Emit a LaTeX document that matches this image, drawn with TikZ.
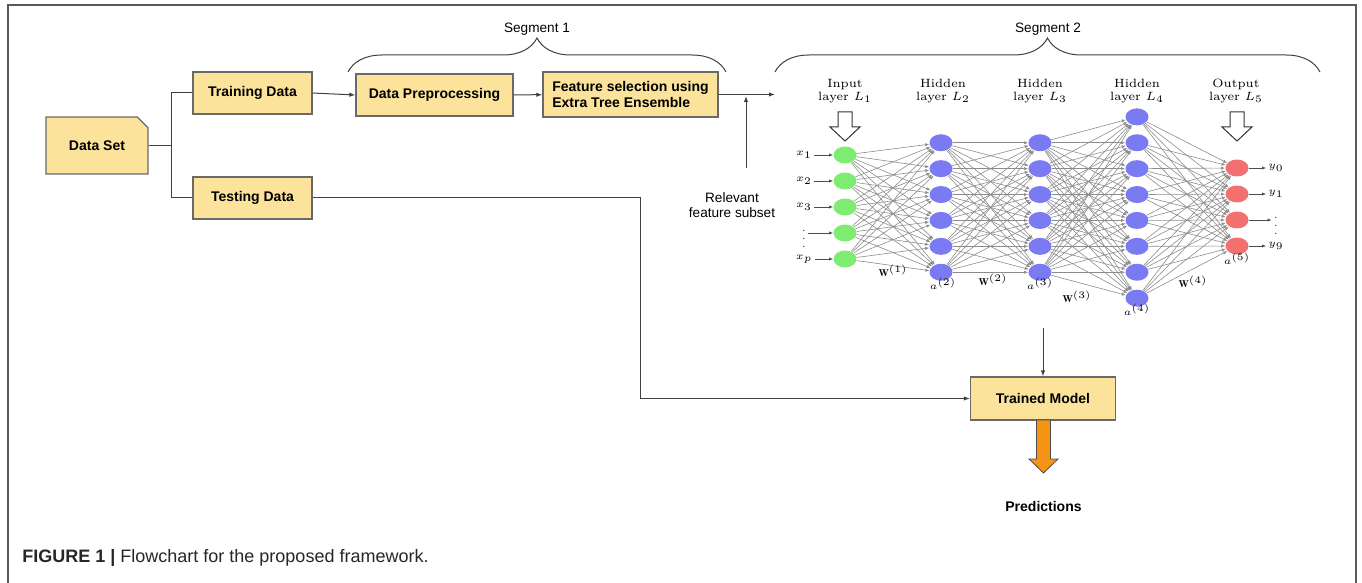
\documentclass[tikz,border=0pt]{standalone}
\usepackage{fontspec}
\setsansfont{Liberation Sans}
\usepackage{amsmath}
\usetikzlibrary{shapes,arrows,arrows.meta,decorations.pathreplacing}

\definecolor{boxfill}{RGB}{251,227,156}
\definecolor{boxline}{RGB}{105,105,105}
\definecolor{inode}{RGB}{125,236,112}
\definecolor{hnode}{RGB}{122,122,242}
\definecolor{onode}{RGB}{242,112,112}
\definecolor{predfill}{RGB}{245,148,20}

\tikzset{
  stagebox/.style={rectangle,draw=boxline,fill=boxfill,line width=0.6pt,inner sep=0pt,
    font=\sffamily\bfseries\fontsize{7}{8.4}\selectfont,align=left},
  link/.style={draw=black!75,line width=0.5pt},
  tip/.style={-{Latex[length=3pt,width=2.2pt]}},
  neuron/.style={ellipse,minimum width=11.5pt,minimum height=8.5pt,inner sep=0pt},
  nnedge/.style={draw=black!45,line width=0.3pt,-{Latex[length=2pt,width=1.6pt]}},
  nnlabel/.style={font=\fontsize{6}{6.5}\selectfont,align=center},
  varlabel/.style={font=\fontsize{5}{6}\selectfont,inner sep=1pt},
  seglabel/.style={font=\sffamily\fontsize{6.8}{7.8}\selectfont,align=center},
  hollow/.style={draw=black!80,fill=white,line width=0.5pt},
}

\begin{document}
\begin{tikzpicture}[x=0.5pt,y=-0.5pt]
\useasboundingbox (0,0) rectangle (1362,583);

% frame
\draw[black!65,line width=1pt] (8,583) -- (8,5) -- (1356,5) -- (1356,583);

% flowchart boxes
\node [stagebox,shape=chamfered rectangle,chamfered rectangle corners=north east,
  chamfered rectangle xsep=4.5pt,chamfered rectangle angle=45,
  minimum width=51pt,minimum height=28.5pt] (dataset) at (97,145.5) {Data Set};
\node [stagebox,minimum width=59.5pt,minimum height=21pt] (train) at (252.5,93) {Training Data};
\node [stagebox,minimum width=59.5pt,minimum height=21pt] (test) at (252.5,198) {Testing Data};
\node [stagebox,minimum width=78.5pt,minimum height=21pt] (prep) at (434.5,95) {Data Preprocessing};
\node [stagebox,minimum width=87.5pt,minimum height=22.5pt] (featsel) at (630.5,94.5) {Feature selection using\\Extra Tree Ensemble};
\node [stagebox,minimum width=72.5pt,minimum height=21.5pt] (trained) at (1043,398.5) {Trained Model};

\node [seglabel] (relevant) at (732,205) {Relevant\\feature subset};
\node [seglabel] (seg1) at (537,29) {Segment 1};
\node [seglabel] (seg2) at (1048,29) {Segment 2};
\node [font=\sffamily\bfseries\fontsize{7}{8.4}\selectfont] (pred) at (1043.5,506) {Predictions};

\coordinate (split) at (171,145.5);
\coordinate (nnin) at (775,94.5);
\coordinate (relfoot) at (746,168);
\coordinate (reljoin) at (746,96);
\coordinate (nnout) at (1043,328);
\coordinate (testbend) at (640,198);

\draw [link] (dataset.east) -- (split) |- (train.west);
\draw [link] (split) |- (test.west);
\draw [link,tip] (train.east) -- (prep.west);
\draw [link,tip] (prep) -- (featsel);
\draw [link,tip] (featsel.east) -- (nnin);
\draw [link,tip] (relfoot) -- (reljoin);
\draw [link,tip] (nnout) -- (trained);
\draw [link,tip] (test.east) -- (testbend) |- (trained.west);

% segment braces
\draw [link,decorate,decoration={brace,amplitude=17pt}] (348,72) -- (726,72);
\draw [link,decorate,decoration={brace,amplitude=17pt}] (775,72) -- (1320,72);

% prediction arrow
\draw [draw=black!70,fill=predfill,line width=0.4pt]
  (1036.5,420) -- (1036.5,459) -- (1029,459) -- (1043.5,473) -- (1058,459) -- (1050.5,459) -- (1050.5,420) -- cycle;

% network layers
\foreach \k in {1,...,5}
  \node [neuron,fill=inode] (in\k) at (845,{207+(\k-3)*26}) {};
\foreach \k in {1,...,6} {
  \node [neuron,fill=hnode] (hb\k) at (941,{207.5+(\k-3.5)*25.9}) {};
  \node [neuron,fill=hnode] (hc\k) at (1040,{207.5+(\k-3.5)*25.9}) {};
}
\foreach \k in {1,...,8}
  \node [neuron,fill=hnode] (hd\k) at (1137,{207.5+(\k-4.5)*25.9}) {};
\foreach \k in {1,...,4}
  \node [neuron,fill=onode] (out\k) at (1237,{207+(\k-2.5)*26}) {};

\foreach \i in {1,...,5} \foreach \j in {1,...,6} \draw [nnedge] (in\i) -- (hb\j);
\foreach \i in {1,...,6} \foreach \j in {1,...,6} \draw [nnedge] (hb\i) -- (hc\j);
\foreach \i in {1,...,6} \foreach \j in {1,...,8} \draw [nnedge] (hc\i) -- (hd\j);
\foreach \i in {1,...,8} \foreach \j in {1,...,4} \draw [nnedge] (hd\i) -- (out\j);

% inputs and outputs
\foreach \k/\lab in {1/x_1,2/x_2,3/x_3,4/\vdots,5/x_p} {
  \node [varlabel] (xv\k) at (804,{207+(\k-3)*26}) {$\lab$};
  \draw [nnedge,draw=black!70] (xv\k) -- (in\k);
}
\foreach \k/\lab in {1/y_0,2/y_1,3/\vdots,4/y_9} {
  \node [varlabel] (yv\k) at (1276,{207+(\k-2.5)*26}) {$\lab$};
  \draw [nnedge,draw=black!70] (out\k) -- (yv\k);
}

% layer titles
\node [nnlabel] (lt1) at (845,91) {Input\\layer $L_1$};
\node [nnlabel] (lt2) at (943,91) {Hidden\\layer $L_2$};
\node [nnlabel] (lt3) at (1040,91) {Hidden\\layer $L_3$};
\node [nnlabel] (lt4) at (1137,91) {Hidden\\layer $L_4$};
\node [nnlabel] (lt5) at (1236,91) {Output\\layer $L_5$};

\foreach \cx in {845,1237}
  \draw [hollow,shift={(\cx,0)}] (-7,112) -- (7,112) -- (7,127) -- (15,127) -- (0,141) -- (-15,127) -- (-7,127) -- cycle;

% weights and activations
\node [varlabel] (w1) at (893,271) {$\mathbf{W}^{(1)}$};
\node [varlabel] (w2) at (993,280) {$\mathbf{W}^{(2)}$};
\node [varlabel] (w3) at (1077,297) {$\mathbf{W}^{(3)}$};
\node [varlabel] (w4) at (1193,282) {$\mathbf{W}^{(4)}$};
\node [varlabel] (a2) at (943,284) {$a^{(2)}$};
\node [varlabel] (a3) at (1040,284) {$a^{(3)}$};
\node [varlabel] (a4) at (1137,310) {$a^{(4)}$};
\node [varlabel] (a5) at (1237,259) {$a^{(5)}$};

% caption
\node [anchor=west,inner sep=0pt,text=black!85,font=\sffamily\fontsize{9}{10.8}\selectfont] (caption) at (22,558)
  {\textbf{FIGURE 1 |} Flowchart for the proposed framework.};
\end{tikzpicture}
\end{document}
